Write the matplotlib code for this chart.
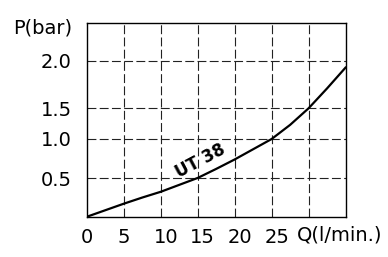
import matplotlib
matplotlib.use('Agg')
import matplotlib.pyplot as plt
import numpy as np
from matplotlib.transforms import ScaledTranslation

# flow (l/min) vs pressure drop (bar)
q = [0, 2.5, 5, 7.5, 10, 12.5, 15, 17.5, 20, 22.5, 25, 27.5, 30, 32.5, 35]
p = [0, 0.085, 0.17, 0.25, 0.325, 0.415, 0.505, 0.62, 0.74, 0.87, 1.0, 1.23, 1.5, 1.71, 1.93]

x_ticks = [0, 5, 10, 15, 20, 25]
x_grid = [5, 10, 15, 20, 25, 30]
y_ticks = [0.5, 1.0, 1.5, 2.0]
y_tick_labels = ['0.5', '1.0', '1.5', '2.0']
curve_label = 'UT 38'

# the printed grid is not evenly spaced, so map values piecewise
scale_vals = [0, 0.5, 1.0, 1.5, 2.0, 2.5]
scale_pos = [0, 38.4, 77.7, 108.4, 155.7, 194.0]


def fwd(v):
    return np.interp(v, scale_vals, scale_pos)


def inv(v):
    return np.interp(v, scale_pos, scale_vals)


fig = plt.figure(figsize=(3.88, 2.57), dpi=100)
ax = fig.add_axes([87 / 388, 1 - 216.7 / 257, (345.5 - 87) / 388, (216.7 - 22.7) / 257])
ax.set_yscale('function', functions=(fwd, inv))
ax.set_xlim(0, 35)
ax.set_ylim(0, 2.5)

for xg in x_grid:
    ax.axvline(xg, color='#222222', lw=0.8, linestyle=(0, (8, 3)), zorder=1)
for yg in y_ticks:
    ax.axhline(yg, color='#222222', lw=0.8, linestyle=(0, (8, 3)), zorder=1)

ax.plot(q, p, color='black', lw=1.6, zorder=3, solid_joinstyle='round')

ax.text(15.4, 0.72, curve_label, fontsize=12, fontweight='bold', rotation=28,
        rotation_mode='anchor', ha='center', va='center', zorder=4)

ax.set_xticks(x_ticks)
ax.set_xticklabels([str(t) for t in x_ticks])
ax.set_yticks(y_ticks)
ax.set_yticklabels(y_tick_labels)
ax.tick_params(axis='both', length=0, labelsize=14)
ax.tick_params(axis='x', pad=8)
ax.tick_params(axis='y', pad=11)
ax.minorticks_off()

# two-digit labels sit a little right of their gridlines in the original
shift = ScaledTranslation(5 / 100, 0, fig.dpi_scale_trans)
for lab in ax.get_xticklabels()[2:]:
    lab.set_transform(lab.get_transform() + shift)

for s in ax.spines.values():
    s.set_linewidth(1.0)
    s.set_color('black')

fig.text(72 / 388, 1 - 28 / 257, 'P(bar)', fontsize=14, ha='right', va='center')
fig.text(297 / 388, 1 - 235 / 257, 'Q(l/min.)', fontsize=14, ha='left', va='center')

fig.savefig('out.png', dpi=100)
